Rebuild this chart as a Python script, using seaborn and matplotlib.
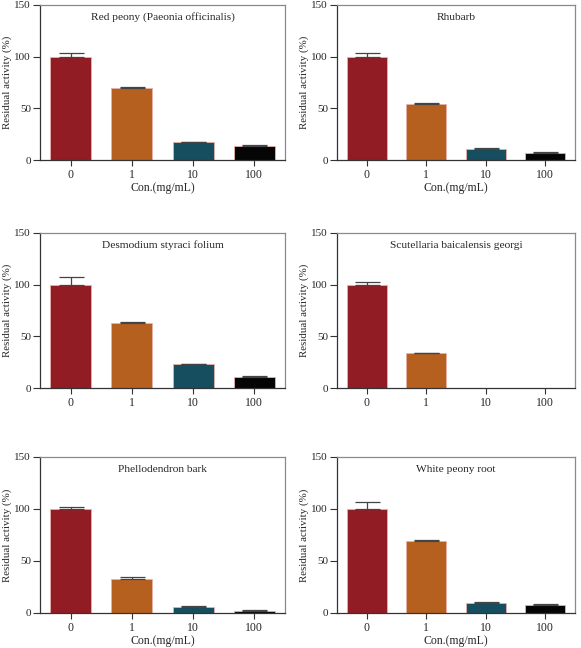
import numpy as np
import pandas as pd
import matplotlib
matplotlib.use("Agg")
import matplotlib.pyplot as plt
import seaborn as sns

# data
conc = ["0", "1", "10", "100"]
titles = ["Red peony (Paeonia officinalis)", "Rhubarb", "Desmodium styraci folium",
          "Scutellaria baicalensis georgi", "Phellodendron bark", "White peony root"]
red_peony = [100, 69.5, 17, 14]
red_peony_err = [3.5, 1, 0.5, 0.5]
rhubarb = [100, 54.5, 11, 7]
rhubarb_err = [3.5, 1, 0.5, 0.5]
desmodium = [100, 63, 23, 11]
desmodium_err = [7, 0.8, 0.6, 0.5]
scutellaria = [100, 33.5, 0, 0]
scutellaria_err = [2.5, 0.6, 0, 0]
phellodendron = [100, 33, 6, 2]
phellodendron_err = [2, 2, 0.5, 0.5]
white_peony = [100, 69.5, 10, 8]
white_peony_err = [7, 0.8, 0.5, 0.5]

values = [red_peony, rhubarb, desmodium, scutellaria, phellodendron, white_peony]
errors = [red_peony_err, rhubarb_err, desmodium_err, scutellaria_err, phellodendron_err, white_peony_err]
colors = ["#921c24", "#b5601f", "#164e60", "#050505"]

sns.set_style("white")
plt.rcParams['font.family'] = ['Liberation Serif', 'DejaVu Serif']

W, H = 581, 648
fig = plt.figure(figsize=(W / 100, H / 100), dpi=100)

# axes boxes in pixels: (left, top, right, bottom)
boxes = [(40, 5, 285, 160), (337, 5, 575, 160),
         (40, 233, 285, 388), (337, 233, 575, 388),
         (40, 457, 285, 613), (337, 457, 575, 613)]

for i in range(6):
    l, t, r, b = boxes[i]
    ax = fig.add_axes([l / W, (H - b) / H, (r - l) / W, (b - t) / H])
    df = pd.DataFrame({"conc": conc, "val": values[i]})
    sns.barplot(data=df, x="conc", y="val", hue="conc", palette=colors, legend=False,
                saturation=1, width=0.67, errorbar=None, edgecolor="#e8b0a8",
                linewidth=0.6, ax=ax)
    x = np.arange(4)
    v = np.array(values[i], dtype=float)
    err = np.array(errors[i], dtype=float)
    keep = v > 0
    ax.errorbar(x[keep], v[keep], yerr=[np.zeros(keep.sum()), err[keep]], fmt="none",
                ecolor="#444444", elinewidth=0.9, capsize=9, capthick=0.9, zorder=1)
    ax.set_ylim(0, 150)
    ax.set_xlim(-0.5, 3.5)
    ax.set_yticks([0, 50, 100, 150])
    ax.tick_params(axis="x", labelsize=8.5, length=4, width=0.8, color="#333333",
                   direction="out", bottom=True, pad=2.5)
    ax.tick_params(axis="y", labelsize=8, length=5, width=0.8, color="#333333",
                   direction="out", left=True, pad=1.5)
    ax.text(0.5, 0.92, titles[i], transform=ax.transAxes, ha="center", va="center", fontsize=8.2)
    ax.set_ylabel("Residual activity (%)", fontsize=7.8)
    # right edge of the rotated label, in pixels from the figure's left
    lab_x = 12.5 if l < 100 else 309
    ax.yaxis.set_label_coords((lab_x - l) / (r - l), 0.5)
    if i in (2, 3):
        ax.set_xlabel("")
    else:
        ax.set_xlabel("Con.(mg/mL)", fontsize=8.5, labelpad=1)
    for s in ["left", "bottom"]:
        ax.spines[s].set_color("#333333")
        ax.spines[s].set_linewidth(0.9)
    for s in ["top", "right"]:
        ax.spines[s].set_color("#8a8a8a")
        ax.spines[s].set_linewidth(0.9)

fig.savefig("out.png", dpi=100)
